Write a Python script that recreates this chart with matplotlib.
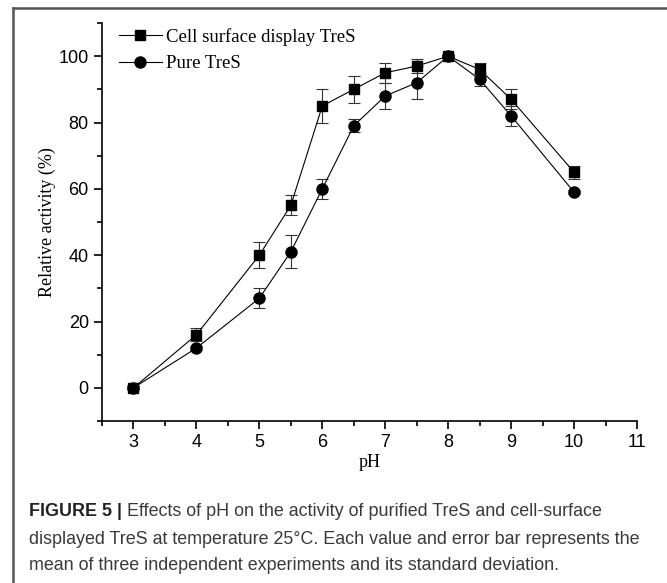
import numpy as np
import matplotlib.pyplot as plt
from matplotlib.lines import Line2D
from matplotlib.ticker import MultipleLocator

ph_cell = [3, 4, 5, 5.5, 6, 6.5, 7, 7.5, 8, 8.5, 9, 10]
act_cell = [0, 16, 40, 55, 85, 90, 95, 97, 100, 96, 87, 65]
err_cell = [0.5, 2, 4, 3, 5, 4, 3, 2, 0.5, 2, 3, 2]

ph_pure = [3, 4, 5, 5.5, 6, 6.5, 7, 7.5, 8, 8.5, 9, 10]
act_pure = [0, 12, 27, 41, 60, 79, 88, 92, 100, 93, 82, 59]
err_pure = [0.5, 0.5, 3, 5, 3, 2, 4, 5, 0.5, 2, 3, 0.5]

caption_bold = "FIGURE 5 |"
caption_lines = [
    " Effects of pH on the activity of purified TreS and cell-surface",
    "displayed TreS at temperature 25\u00b0C. Each value and error bar represents the",
    "mean of three independent experiments and its standard deviation.",
]

W, H = 667, 583
fig = plt.figure(figsize=(W / 100, H / 100), dpi=100)
ax = fig.add_axes([102 / W, 1 - 421 / H, (637 - 102) / W, (421 - 23) / H])

lc = "#333333"
ax.errorbar(ph_cell, act_cell, yerr=err_cell, marker="s", ms=7, color="black",
            mfc="black", lw=0.8, ecolor=lc, elinewidth=0.8, capsize=4, capthick=0.8,
            label="Cell surface display TreS")
ax.errorbar(ph_pure, act_pure, yerr=err_pure, marker="o", ms=8, color="black",
            mfc="black", lw=0.8, ecolor=lc, elinewidth=0.8, capsize=4, capthick=0.8,
            label="Pure TreS")

ax.set_xlim(2.5, 11)
ax.set_ylim(-10, 110)
ax.xaxis.set_major_locator(MultipleLocator(1))
ax.xaxis.set_minor_locator(MultipleLocator(0.5))
ax.yaxis.set_major_locator(MultipleLocator(20))
ax.yaxis.set_minor_locator(MultipleLocator(10))
ax.spines["top"].set_visible(False)
ax.spines["right"].set_visible(False)
for s in ("left", "bottom"):
    ax.spines[s].set_linewidth(1.2)
ax.tick_params(which="major", direction="out", length=6, width=1.2, labelsize=13,
               labelfontfamily="Liberation Sans")
ax.tick_params(which="minor", direction="out", length=3.5, width=1.2)
ax.set_xticks([3, 4, 5, 6, 7, 8, 9, 10, 11])

ax.set_xlabel("pH", family="Liberation Serif", fontsize=13, labelpad=2)
ax.set_ylabel("Relative activity (%)", family="Liberation Serif", fontsize=13, labelpad=2)

handles = [
    Line2D([], [], color="black", lw=0.8, marker="s", ms=7),
    Line2D([], [], color="black", lw=0.8, marker="o", ms=8),
]
ax.legend(handles, ["Cell surface display TreS", "Pure TreS"], loc="upper left",
          bbox_to_anchor=(0.0, 1.03), frameon=False, handlelength=2.3,
          handletextpad=0.2, labelspacing=0.5,
          prop={"family": "Liberation Serif", "size": 13.5})

# outer panel frame
fig.add_artist(Line2D([13 / W, 1], [1 - 8 / H, 1 - 8 / H], color="#555555", lw=1.8))
fig.add_artist(Line2D([13 / W, 13 / W], [0, 1 - 8 / H], color="#555555", lw=1.8))

# caption
fs = 12.9
y0 = 1 - 511 / H
t = fig.text(29 / W, y0, caption_bold, fontsize=fs, fontweight="bold",
             family="Liberation Sans", color="#222222", va="center")
fig.canvas.draw()
bb = t.get_window_extent()
fig.text(bb.x1 / W, y0, caption_lines[0], fontsize=fs, family="Liberation Sans",
         color="#3a3a3a", va="center")
fig.text(29 / W, 1 - 539 / H, caption_lines[1], fontsize=fs, family="Liberation Sans",
         color="#3a3a3a", va="center")
fig.text(29 / W, 1 - 566 / H, caption_lines[2], fontsize=fs, family="Liberation Sans",
         color="#3a3a3a", va="center")

fig.savefig("out.png", dpi=100)
